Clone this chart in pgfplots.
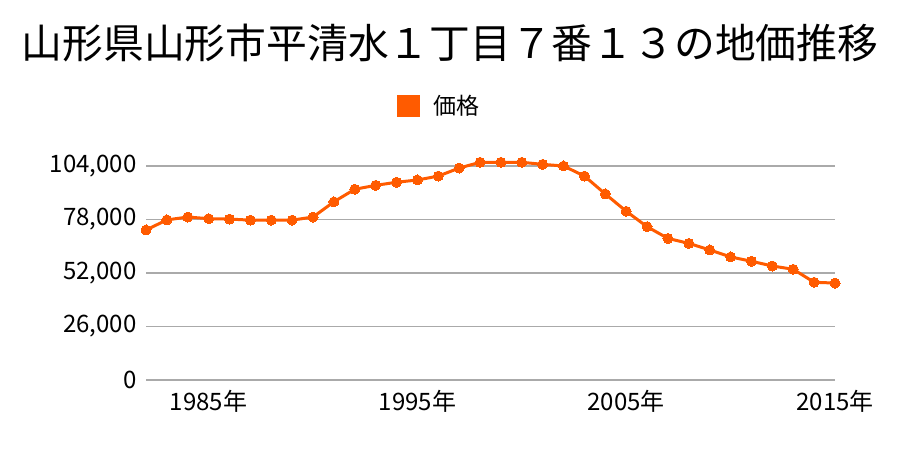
\documentclass[border=0pt]{standalone}
\usepackage{pgfplots}
\pgfplotsset{compat=1.18}
\usepackage{fontspec}
\setmainfont{Noto Sans CJK JP}
\definecolor{lineor}{HTML}{FF5B00}
\definecolor{gridg}{HTML}{AAAAAA}
\begin{document}
\begin{tikzpicture}[x=1pt,y=1pt]
\useasboundingbox (0,0) rectangle (900,450);
\node[font=\fontsize{40.8}{42}\selectfont] at (450,407) {山形県山形市平清水１丁目７番１３の地価推移};
\fill[lineor] (397,333) rectangle (420,355);
\node[anchor=west,font=\fontsize{23}{26}\selectfont, inner sep=0pt] at (433,344) {価格};
\begin{axis}[
  at={(146pt,70pt)}, anchor=south west,
  scale only axis, width=689pt, height=214pt,
  xmin=1982, xmax=2015, ymin=0, ymax=104000,
  clip=false,
  axis line style={draw=none},
  major tick length=0pt,
  ymajorgrids, grid style={gridg, line width=1.2pt},
  xtick={1985,1995,2005,2015},
  xticklabels={1985年,1995年,2005年,2015年},
  ytick={0,26000,52000,78000,104000},
  scaled y ticks=false,
  yticklabel style={/pgf/number format/fixed, /pgf/number format/1000 sep={,}},
  /pgf/number format/assume math mode=true,
  ticklabel style={font=\fontsize{24}{26}\selectfont},
  xticklabel style={yshift=-7pt},
  yticklabel style={xshift=-6pt},
]
\addplot[lineor, line width=3pt, mark=*, mark size=5pt, mark options={fill=lineor, draw=lineor, line width=0pt}] coordinates {
(1982,72900) (1983,77800) (1984,79200) (1985,78400) (1986,78200) (1987,77700)
(1988,77700) (1989,77700) (1990,79200) (1991,86600) (1992,92700) (1993,94600)
(1994,96100) (1995,97200) (1996,99100) (1997,103000) (1998,105800) (1999,105800)
(2000,105800) (2001,104800) (2002,104000) (2003,99100) (2004,90400) (2005,82000)
(2006,74500) (2007,68800) (2008,66400) (2009,63200) (2010,59800) (2011,57700)
(2012,55400) (2013,53800) (2014,47500) (2015,47100)
};
\end{axis}
\end{tikzpicture}
\end{document}
